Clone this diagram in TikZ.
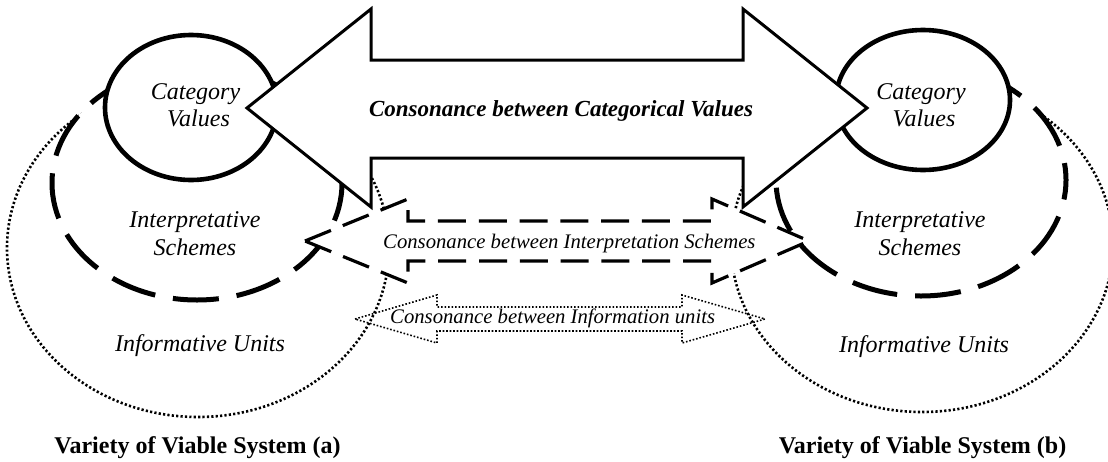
\documentclass[tikz,border=0pt]{standalone}
\usepackage{fontspec}
\setmainfont{Liberation Serif}
\usetikzlibrary{shapes.geometric}
\begin{document}
\begin{tikzpicture}[x=1pt,y=-1pt,
  catring/.style={ellipse, draw, line width=4.6pt, fill=white, inner sep=0pt},
  schemering/.style={ellipse, draw, line width=5pt, dash pattern=on 46pt off 18pt, fill=white, inner sep=0pt},
  unitring/.style={ellipse, draw, line width=2.6pt, dash pattern=on 2.2pt off 2.2pt, inner sep=0pt},
  bigarrow/.style={draw, line width=3pt, fill=white, line join=miter},
  dasharrow/.style={draw, line width=3.2pt, dash pattern=on 28pt off 12.8pt, fill=white},
  dotarrow/.style={draw, line width=1.6pt, dash pattern=on 1.6pt off 1.9pt},
  lbl/.style={font=\fontsize{24}{29}\selectfont\itshape, inner sep=0pt, anchor=base},
  flowlbl/.style={font=\fontsize{20.7}{25}\selectfont\itshape, inner sep=0pt, anchor=base west},
  syslbl/.style={font=\fontsize{24}{29}\selectfont\bfseries, inner sep=0pt, anchor=base},
  mainlbl/.style={font=\fontsize{23}{28}\selectfont\bfseries\itshape, inner sep=0pt, anchor=base}]
\useasboundingbox (0,0) rectangle (1108,461);

% outer rings: informative units
\node[unitring, minimum width=382pt, minimum height=338pt] (iuA) at (198,248) {};
\node[unitring, minimum width=382pt, minimum height=334pt] (iuB) at (922,245) {};

% middle rings: interpretative schemes
\node[schemering, dash phase=45pt, minimum width=290pt, minimum height=234pt] (isA) at (197,183) {};
\node[schemering, dash phase=29pt, minimum width=290pt, minimum height=232pt] (isB) at (921,180) {};

% inner rings: category values
\node[catring, minimum width=172pt, minimum height=145pt] (cvA) at (191,107.5) {};
\node[catring, minimum width=174pt, minimum height=140pt] (cvB) at (923,100) {};

% consonance between categorical values
\draw[bigarrow] (247,108) -- (371,9) -- (371,60) -- (743,60) -- (743,9) -- (867,108)
  -- (743,207) -- (743,158) -- (371,158) -- (371,207) -- cycle;

% consonance between interpretation schemes
\draw[dasharrow] (305,241) -- (408,199) -- (408,221) -- (712,221) -- (712,199) -- (809,241)
  -- (712,283) -- (712,261) -- (408,261) -- (408,283) -- cycle;

% consonance between information units
\draw[dotarrow] (355,319) -- (437,295) -- (437,307) -- (682,307) -- (682,295) -- (765,319)
  -- (682,343) -- (682,331) -- (437,331) -- (437,343) -- cycle;

% labels
\node[mainlbl] (cvFlow) at (561,116) {Consonance between Categorical Values};
\node[flowlbl] (isFlow) at (383,248) {Consonance between Interpretation Schemes};
\node[flowlbl] (iuFlow) at (390,323) {Consonance between Information units};

\node[lbl] (cvA1) at (195.5,99) {Category};
\node[lbl] (cvA2) at (198.5,126) {Values};
\node[lbl] (cvB1) at (921,99) {Category};
\node[lbl] (cvB2) at (924,126) {Values};

\node[lbl] (isA1) at (195,227) {Interpretative};
\node[lbl] (isA2) at (195,255) {Schemes};
\node[lbl] (isB1) at (920,227) {Interpretative};
\node[lbl] (isB2) at (920,255) {Schemes};

\node[lbl] (iuA1) at (200,351) {Informative Units};
\node[lbl] (iuB1) at (924,352) {Informative Units};

\node[syslbl] (sysA) at (197.5,453) {Variety of Viable System (a)};
\node[syslbl] (sysB) at (922.5,453) {Variety of Viable System (b)};
\end{tikzpicture}
\end{document}
